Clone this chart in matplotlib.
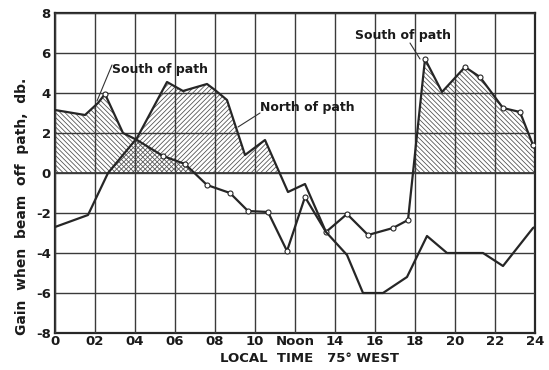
import numpy as np
import matplotlib
matplotlib.use('Agg')
import matplotlib.pyplot as plt

plt.rcParams['axes.unicode_minus'] = False
plt.rcParams['font.family'] = 'DejaVu Sans'
plt.rcParams['hatch.color'] = '#4a4a4a'
plt.rcParams['hatch.linewidth'] = 0.55

# gain vs local time (75 deg W), beam steered south / north of the path
south_hr = [0, 1.5, 2.15, 2.5, 3.4, 4.1, 5.4, 6.5, 7.6, 8.75, 9.65, 10.65, 11.6,
            12.5, 13.55, 14.6, 15.65, 16.9, 17.65, 18.5, 19.35, 20.5, 21.25,
            22.4, 23.25, 23.9, 24]
south_db = [3.15, 2.9, 3.5, 3.95, 2.0, 1.65, 0.85, 0.45, -0.6, -1.0, -1.9, -1.95,
            -3.9, -1.2, -2.95, -2.05, -3.1, -2.75, -2.35, 5.7, 4.05, 5.3, 4.8,
            3.25, 3.05, 1.4, 1.2]
south_marks = [3, 6, 7, 8, 9, 10, 11, 12, 13, 14, 15, 16, 17, 18, 19, 21, 22,
               23, 24, 25]

north_hr = [0, 1.65, 2.65, 4.1, 5.6, 6.4, 7.6, 8.0, 8.6, 9.5, 10.5, 11.65, 12.5,
            13.55, 14.6, 15.4, 16.4, 17.6, 18.6, 19.6, 21.4, 22.4, 23.9, 24]
north_db = [-2.7, -2.1, 0.0, 1.75, 4.55, 4.1, 4.45, 4.15, 3.65, 0.9, 1.65, -0.95,
            -0.55, -2.95, -4.1, -6.0, -6.0, -5.2, -3.15, -4.0, -4.0, -4.65,
            -2.75, -2.7]

hour_ticks = list(range(0, 25, 2))
hour_labels = ['0', '02', '04', '06', '08', '10', 'Noon', '14', '16', '18',
               '20', '22', '24']
db_ticks = list(range(-8, 9, 2))

ink = '#262626'

fig = plt.figure(figsize=(5.49, 3.70), dpi=100)
ax = fig.add_axes([55 / 549, 1 - 333 / 370, 480 / 549, 320 / 370])

sh, sd = np.array(south_hr), np.array(south_db)
nh, nd = np.array(north_hr), np.array(north_db)

# hatched areas above 0 db (they cross-hatch where both are positive)
ax.fill_between(sh, sd, 0, where=sd > 0, interpolate=True, facecolor='none',
                edgecolor='#4a4a4a', hatch='\\' * 7, linewidth=0, zorder=1)
ax.fill_between(nh, nd, 0, where=nd > 0, interpolate=True, facecolor='none',
                edgecolor='#4a4a4a', hatch='/' * 7, linewidth=0, zorder=1)

ax.plot(sh, sd, color=ink, lw=1.6, marker='o', ms=3.6, mfc='white', mec=ink,
        mew=0.8, markevery=south_marks, zorder=4)
ax.plot(nh, nd, color=ink, lw=1.6, zorder=4)

ax.set_xlim(0, 24)
ax.set_ylim(-8, 8)
ax.set_xticks(hour_ticks)
ax.set_xticklabels(hour_labels)
ax.set_yticks(db_ticks)
ax.grid(True, color='#3a3a3a', lw=1.0, zorder=2)
ax.axhline(0, color='#3a3a3a', lw=1.3, zorder=2)
ax.set_axisbelow(False)
ax.tick_params(length=0, labelsize=9.5, colors='#1a1a1a')
ax.tick_params(axis='x', pad=1.5)
ax.tick_params(axis='y', pad=3)
for lab in ax.get_xticklabels() + ax.get_yticklabels():
    lab.set_fontweight('bold')
for sp in ax.spines.values():
    sp.set_linewidth(1.6)
    sp.set_color(ink)

txt = dict(fontsize=9, fontweight='bold', color='#1a1a1a')
lead = dict(arrowstyle='-', lw=0.8, color='#333333', shrinkA=0, shrinkB=0)

ax.text(2.85, 5.15, 'South of path', ha='left', va='center', **txt)
ax.annotate('', xy=(2.1, 3.6), xytext=(2.85, 5.4), arrowprops=lead)

ax.text(10.25, 3.25, 'North of path', ha='left', va='center', **txt)
ax.annotate('', xy=(9.15, 2.3), xytext=(10.25, 3.0), arrowprops=lead)

ax.text(15.0, 6.9, 'South of path', ha='left', va='center', **txt)
ax.annotate('', xy=(18.25, 5.7), xytext=(17.75, 6.5), arrowprops=lead)

fig.text(22 / 549, 1 - 206 / 370, 'Gain  when  beam  off  path,  db.',
         rotation=90, ha='center', va='center', fontsize=10, fontweight='bold',
         color='#1a1a1a')
fig.text(309 / 549, 1 - 358 / 370, 'LOCAL  TIME   75° WEST', ha='center',
         va='center', fontsize=9.5, fontweight='bold', color='#1a1a1a')

fig.savefig('out.png', dpi=100, facecolor='white')
